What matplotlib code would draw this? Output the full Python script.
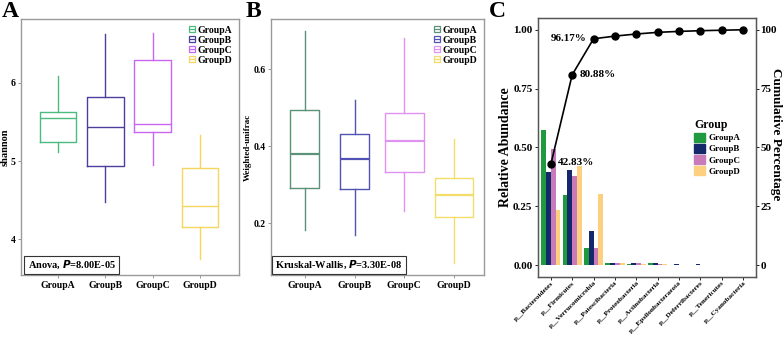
import matplotlib
matplotlib.use("Agg")
import matplotlib.pyplot as plt
import numpy as np
from matplotlib.lines import Line2D
from matplotlib.patches import Patch

plt.rcParams["font.family"] = ["Liberation Serif", "DejaVu Serif"]
plt.rcParams["font.weight"] = "bold"

groups = ["GroupA", "GroupB", "GroupC", "GroupD"]

# panel A: shannon box stats (whislo, q1, med, q3, whishi)
shannon_stats = [
    (5.12, 5.24, 5.55, 5.63, 6.09),
    (4.47, 4.94, 5.43, 5.82, 6.63),
    (4.95, 5.37, 5.47, 6.29, 6.64),
    (3.74, 4.15, 4.42, 4.91, 5.33),
]
shannon_colors = ["#4cbb7f", "#4b3f9c", "#c866f2", "#f7d560"]

# panel B: weighted-unifrac box stats
unifrac_stats = [
    (0.182, 0.291, 0.379, 0.494, 0.699),
    (0.169, 0.288, 0.366, 0.431, 0.520),
    (0.231, 0.333, 0.413, 0.486, 0.680),
    (0.096, 0.216, 0.272, 0.318, 0.418),
]
unifrac_widths = [0.58, 0.58, 0.78, 0.77]
unifrac_colors = ["#5a937a", "#5252b4", "#df92f0", "#f3dc68"]

# panel C: relative abundance per phylum
phyla = ["p__Bacteroidetes", "p__Firmicutes", "p__Verrucomicrobia", "p__Patescibacteria",
         "p__Proteobacteria", "p__Actinobacteria", "p__Epsilonbacteraeota",
         "p__Deferribacteres", "p__Tenericutes", "p__Cyanobacteria"]
abund_a = [0.574, 0.299, 0.074, 0.010, 0.006, 0.008, 0.003, 0.002, 0.002, 0.001]
abund_b = [0.397, 0.404, 0.145, 0.008, 0.010, 0.008, 0.004, 0.005, 0.002, 0.001]
abund_c = [0.494, 0.380, 0.074, 0.008, 0.008, 0.005, 0.003, 0.002, 0.002, 0.001]
abund_d = [0.234, 0.423, 0.302, 0.008, 0.004, 0.004, 0.002, 0.001, 0.002, 0.001]
cumulative = [42.83, 80.88, 96.17, 97.3, 98.2, 98.9, 99.3, 99.6, 99.8, 100.0]
bar_colors = ["#1f9a3f", "#13296b", "#c87ab9", "#fdd080"]


def draw_boxes(ax, stats, colors, widths, median_lw):
    data = [dict(whislo=s[0], q1=s[1], med=s[2], q3=s[3], whishi=s[4], label=g)
            for s, g in zip(stats, groups)]
    for i, (d, c, w) in enumerate(zip(data, colors, widths)):
        ax.bxp([d], positions=[i + 1], widths=w, showfliers=False, showcaps=False,
               boxprops=dict(color=c, lw=1.0),
               whiskerprops=dict(color=c, lw=1.0),
               medianprops=dict(color=c, lw=median_lw),
               manage_ticks=False)
    ax.set_xticks(range(1, 5))
    ax.set_xticklabels(groups, fontsize=7.5, fontweight="bold")
    for sp in ax.spines.values():
        sp.set_color("#9a9a9a")
        sp.set_linewidth(1.0)
    ax.tick_params(axis="both", length=2, width=0.6, color="#888888", labelsize=7, pad=2)
    handles = [(Line2D([], [], color=c, marker="s", markerfacecolor="none", ls="none", ms=5, mew=0.9),
                Line2D([], [], color=c, marker="_", ls="none", ms=5, mew=0.9)) for c in colors]
    ax.legend(handles, groups, loc="upper right", frameon=False,
              handlelength=0.8, handletextpad=0.2, labelspacing=0.1, borderaxespad=0.3,
              prop=dict(weight="bold", size=7))


fig = plt.figure(figsize=(7.83, 3.38), dpi=100)

# panel A
ax_a = fig.add_axes([0.0268, 0.1864, 0.2784, 0.7574])
draw_boxes(ax_a, shannon_stats, shannon_colors, [0.77] * 4, 1.0)
ax_a.set_xlim(0.21, 4.83)
ax_a.set_ylim(3.54, 6.82)
ax_a.set_yticks([4, 5, 6])
ax_a.set_ylabel("shannon", fontsize=7.5, fontweight="bold", labelpad=1)
ax_a.text(0.03, 0.015, r"Anova, $\mathbfit{P}$=8.00E-05", transform=ax_a.transAxes,
          fontsize=7.5, fontweight="bold", ha="left", va="bottom",
          bbox=dict(boxstyle="square,pad=0.3", fc="white", ec="#333333", lw=0.8))

# panel B
ax_b = fig.add_axes([0.3461, 0.1864, 0.272, 0.7574])
draw_boxes(ax_b, unifrac_stats, unifrac_colors, unifrac_widths, 1.6)
ax_b.set_xlim(0.32, 4.6)
ax_b.set_ylim(0.065, 0.73)
ax_b.set_yticks([0.2, 0.4, 0.6])
ax_b.set_yticklabels(["0.2", "0.4", "0.6"])
ax_b.set_ylabel("Weighted-unifrac", fontsize=6.5, fontweight="bold", labelpad=1)
ax_b.text(0.02, 0.015, r"Kruskal-Wallis, $\mathbfit{P}$=3.30E-08", transform=ax_b.transAxes,
          fontsize=7.5, fontweight="bold", ha="left", va="bottom",
          bbox=dict(boxstyle="square,pad=0.3", fc="white", ec="#333333", lw=0.8))

# panel C
ax_c = fig.add_axes([0.6871, 0.1805, 0.2784, 0.7663])
x = np.arange(len(phyla))
bw = 0.225
for k, (vals, col, g) in enumerate(zip([abund_a, abund_b, abund_c, abund_d], bar_colors, groups)):
    ax_c.bar(x + (k - 1.5) * bw, vals, width=bw, color=col, label=g, linewidth=0)
ax_c.set_xlim(-0.6, 9.6)
ax_c.set_ylim(-0.05, 1.05)
ax_c.set_yticks([0, 0.25, 0.5, 0.75, 1.0])
ax_c.set_yticklabels(["0.00", "0.25", "0.50", "0.75", "1.00"])
ax_c.set_xticks(x)
ax_c.set_xticklabels(phyla, rotation=45, ha="right", rotation_mode="anchor",
                     fontsize=5.2, fontweight="bold")
ax_c.tick_params(axis="both", length=2, width=0.6, labelsize=8, pad=2)
ax_c.tick_params(axis="x", labelsize=5.2, pad=0.5)
ax_c.set_ylabel("Relative Abundance", fontsize=10, fontweight="bold", labelpad=1)
for sp in ax_c.spines.values():
    sp.set_color("#555555")
    sp.set_linewidth(1.0)
leg = ax_c.legend(handles=[Patch(color=c, label=g) for c, g in zip(bar_colors, groups)],
                  title="Group", loc="center left", bbox_to_anchor=(0.68, 0.5),
                  frameon=False, handlelength=1.2, handleheight=1.2, handletextpad=0.4,
                  labelspacing=0.15, prop=dict(weight="bold", size=6.5))
leg.get_title().set_fontweight("bold")
leg.get_title().set_fontsize(8.5)
leg._legend_box.align = "left"

ax_r = ax_c.twinx()
ax_r.set_ylim(-5, 105)
ax_r.plot(x, cumulative, color="black", marker="o", ms=5, lw=1.2)
ax_r.set_yticks([0, 25, 50, 75, 100])
ax_r.tick_params(axis="y", length=2, width=0.6, labelsize=8, pad=1)
ax_r.set_ylabel("Cumulative Percentage", fontsize=9.5, fontweight="bold", rotation=270,
                ha="center", va="center")
ax_r.yaxis.set_label_coords(1.094, 0.55)
for sp in ax_r.spines.values():
    sp.set_color("#555555")
ax_r.annotate(f"{cumulative[0]:.2f}%", (x[0], cumulative[0]), xytext=(5, 1),
              textcoords="offset points", fontsize=8, fontweight="bold", ha="left", va="center")
ax_r.annotate(f"{cumulative[1]:.2f}%", (x[1], cumulative[1]), xytext=(5, 0),
              textcoords="offset points", fontsize=8, fontweight="bold", ha="left", va="center")
ax_r.annotate(f"{cumulative[2]:.2f}%", (x[2], cumulative[2]), xytext=(-5, 0),
              textcoords="offset points", fontsize=8, fontweight="bold", ha="right", va="center")

# panel letters
fig.text(0.002, 0.998, "A", fontsize=17, fontweight="bold", ha="left", va="top")
fig.text(0.314, 0.998, "B", fontsize=17, fontweight="bold", ha="left", va="top")
fig.text(0.625, 0.998, "C", fontsize=17, fontweight="bold", ha="left", va="top")

fig.savefig("out.png", dpi=100)
